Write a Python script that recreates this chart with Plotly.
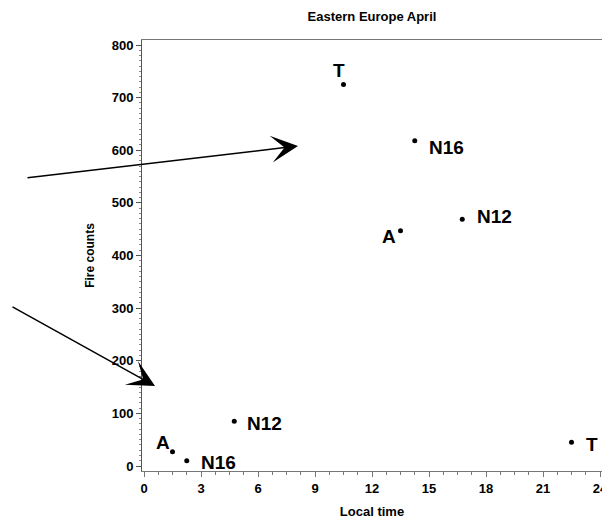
import plotly.graph_objects as go

# ---- data ----
local_hours = [10.5, 13.5, 14.25, 16.75, 1.5, 2.25, 4.75, 22.5]
fire_counts = [725, 447, 618, 469, 27, 10, 85, 45]
sat_labels = ["T", "A", "N16", "N12", "A", "N16", "N12", "T"]
x_ticks = [0, 3, 6, 9, 12, 15, 18, 21, 24]
y_ticks = [0, 100, 200, 300, 400, 500, 600, 700, 800]

# ---- label placement styles (pixel shifts, anchors) ----
label_styles = [
    dict(xanchor="center", xshift=-5, yshift=14),
    dict(xanchor="right", xshift=-3, yshift=-6),
    dict(xanchor="left", xshift=12, yshift=-7),
    dict(xanchor="left", xshift=13, yshift=3),
    dict(xanchor="right", xshift=-1, yshift=9),
    dict(xanchor="left", xshift=12, yshift=-2),
    dict(xanchor="left", xshift=11, yshift=-2),
    dict(xanchor="left", xshift=12, yshift=-2),
]

FONT = "Liberation Sans, Arial, sans-serif"

fig = go.Figure()
fig.add_trace(go.Scatter(
    x=local_hours, y=fire_counts, mode="markers",
    marker=dict(color="black", size=5),
    showlegend=False, cliponaxis=False,
))

annotations = []
for xv, yv, lab, st in zip(local_hours, fire_counts, sat_labels, label_styles):
    annotations.append(dict(
        x=xv, y=yv, xref="x", yref="y", text=f"<b>{lab}</b>", showarrow=False,
        yanchor="middle", font=dict(family=FONT, size=19, color="black"), **st
    ))

# decorative arrows
annotations.append(dict(
    x=0.3391, y=0.7541, xref="paper", yref="paper", ax=-272, ay=32,
    showarrow=True, arrowhead=3, arrowsize=3.0, arrowwidth=1.5,
    arrowcolor="black", text="", standoff=0,
))
annotations.append(dict(
    x=0.0283, y=0.1972, xref="paper", yref="paper", ax=-144, ay=-80,
    showarrow=True, arrowhead=3, arrowsize=3.0, arrowwidth=1.5,
    arrowcolor="black", text="", standoff=0,
))

fig.update_layout(
    width=602, height=520,
    margin=dict(l=142, r=0, t=40, b=49, autoexpand=False),
    paper_bgcolor="white", plot_bgcolor="white",
    font=dict(family=FONT, color="black"),
    title=dict(
        text="<b>Eastern Europe April</b>", x=0.5, xref="paper",
        y=1 - 16 / 520, yref="container", yanchor="middle", xanchor="center",
        font=dict(family=FONT, size=13, color="black"), automargin=False,
    ),
    annotations=annotations,
    showlegend=False,
)

fig.update_xaxes(
    range=[-0.105, 24.105], tickvals=x_ticks,
    ticktext=[f"<b>{t}</b>" for t in x_ticks],
    ticklabeloverflow="allow",
    showgrid=False, zeroline=False, automargin=False,
    showline=True, linecolor="#777", linewidth=1, mirror=True,
    ticks="outside", ticklen=5, tickcolor="#777", tickwidth=1,
    tickfont=dict(family=FONT, size=13, color="black"),
    minor=dict(dtick=0.75, tick0=0, ticks="outside", ticklen=3, tickcolor="#777", showgrid=False),
    title=dict(text="<b>Local time</b>", font=dict(family=FONT, size=13, color="black"), standoff=12),
)
fig.update_yaxes(
    range=[-9.5, 809.5], tickvals=y_ticks,
    ticktext=[f"<b>{t}</b>" for t in y_ticks],
    ticklabeloverflow="allow",
    showgrid=False, zeroline=False, automargin=False,
    showline=True, linecolor="#555", linewidth=1, mirror=False,
    ticks="outside", ticklen=5, tickcolor="#555", tickwidth=1,
    tickfont=dict(family=FONT, size=13, color="black"),
    minor=dict(dtick=10, tick0=0, ticks="outside", ticklen=2, tickcolor="#888", showgrid=False),
    title=dict(text="<b>Fire counts</b>", font=dict(family=FONT, size=12, color="black"), standoff=14),
)

fig.write_html(
    "out.html",
    config={"displayModeBar": False},
    post_script="document.body.style.margin='0';document.body.style.padding='0';",
)
